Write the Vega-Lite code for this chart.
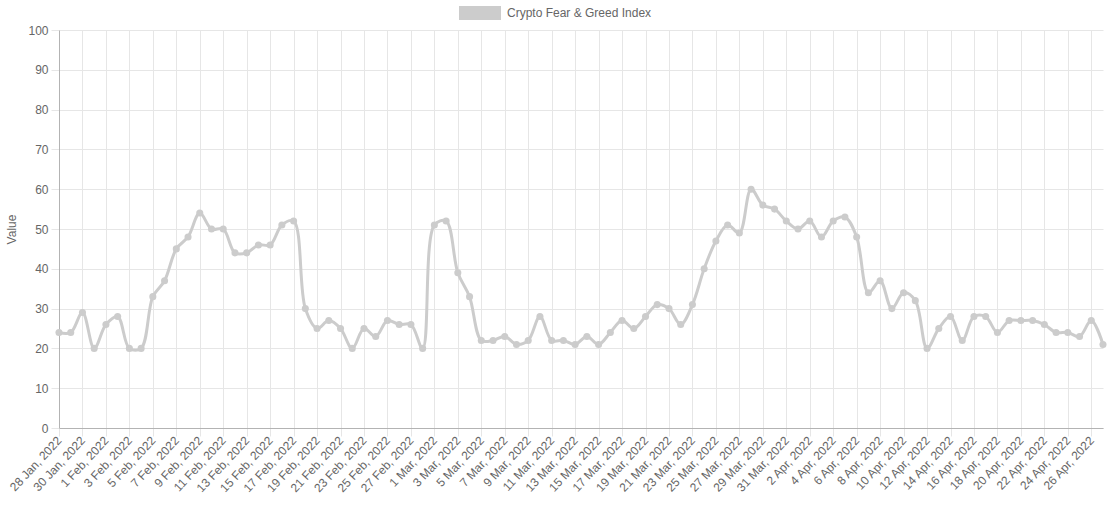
{
  "$schema": "https://vega.github.io/schema/vega-lite/v6.json",
  "width": 1044,
  "height": 398,
  "autosize": {"type": "none"},
  "padding": {"left": 59, "top": 30, "right": 10, "bottom": 78},
  "background": "white",
  "config": {"view": {"stroke": null}, "font": "Liberation Sans"},
  "data": {"values": [
    {"date": "28 Jan, 2022", "value": 24},
    {"date": "29 Jan, 2022", "value": 24},
    {"date": "30 Jan, 2022", "value": 29},
    {"date": "31 Jan, 2022", "value": 20},
    {"date": "1 Feb, 2022", "value": 26},
    {"date": "2 Feb, 2022", "value": 28},
    {"date": "3 Feb, 2022", "value": 20},
    {"date": "4 Feb, 2022", "value": 20},
    {"date": "5 Feb, 2022", "value": 33},
    {"date": "6 Feb, 2022", "value": 37},
    {"date": "7 Feb, 2022", "value": 45},
    {"date": "8 Feb, 2022", "value": 48},
    {"date": "9 Feb, 2022", "value": 54},
    {"date": "10 Feb, 2022", "value": 50},
    {"date": "11 Feb, 2022", "value": 50},
    {"date": "12 Feb, 2022", "value": 44},
    {"date": "13 Feb, 2022", "value": 44},
    {"date": "14 Feb, 2022", "value": 46},
    {"date": "15 Feb, 2022", "value": 46},
    {"date": "16 Feb, 2022", "value": 51},
    {"date": "17 Feb, 2022", "value": 52},
    {"date": "18 Feb, 2022", "value": 30},
    {"date": "19 Feb, 2022", "value": 25},
    {"date": "20 Feb, 2022", "value": 27},
    {"date": "21 Feb, 2022", "value": 25},
    {"date": "22 Feb, 2022", "value": 20},
    {"date": "23 Feb, 2022", "value": 25},
    {"date": "24 Feb, 2022", "value": 23},
    {"date": "25 Feb, 2022", "value": 27},
    {"date": "26 Feb, 2022", "value": 26},
    {"date": "27 Feb, 2022", "value": 26},
    {"date": "28 Feb, 2022", "value": 20},
    {"date": "1 Mar, 2022", "value": 51},
    {"date": "2 Mar, 2022", "value": 52},
    {"date": "3 Mar, 2022", "value": 39},
    {"date": "4 Mar, 2022", "value": 33},
    {"date": "5 Mar, 2022", "value": 22},
    {"date": "6 Mar, 2022", "value": 22},
    {"date": "7 Mar, 2022", "value": 23},
    {"date": "8 Mar, 2022", "value": 21},
    {"date": "9 Mar, 2022", "value": 22},
    {"date": "10 Mar, 2022", "value": 28},
    {"date": "11 Mar, 2022", "value": 22},
    {"date": "12 Mar, 2022", "value": 22},
    {"date": "13 Mar, 2022", "value": 21},
    {"date": "14 Mar, 2022", "value": 23},
    {"date": "15 Mar, 2022", "value": 21},
    {"date": "16 Mar, 2022", "value": 24},
    {"date": "17 Mar, 2022", "value": 27},
    {"date": "18 Mar, 2022", "value": 25},
    {"date": "19 Mar, 2022", "value": 28},
    {"date": "20 Mar, 2022", "value": 31},
    {"date": "21 Mar, 2022", "value": 30},
    {"date": "22 Mar, 2022", "value": 26},
    {"date": "23 Mar, 2022", "value": 31},
    {"date": "24 Mar, 2022", "value": 40},
    {"date": "25 Mar, 2022", "value": 47},
    {"date": "26 Mar, 2022", "value": 51},
    {"date": "27 Mar, 2022", "value": 49},
    {"date": "28 Mar, 2022", "value": 60},
    {"date": "29 Mar, 2022", "value": 56},
    {"date": "30 Mar, 2022", "value": 55},
    {"date": "31 Mar, 2022", "value": 52},
    {"date": "1 Apr, 2022", "value": 50},
    {"date": "2 Apr, 2022", "value": 52},
    {"date": "3 Apr, 2022", "value": 48},
    {"date": "4 Apr, 2022", "value": 52},
    {"date": "5 Apr, 2022", "value": 53},
    {"date": "6 Apr, 2022", "value": 48},
    {"date": "7 Apr, 2022", "value": 34},
    {"date": "8 Apr, 2022", "value": 37},
    {"date": "9 Apr, 2022", "value": 30},
    {"date": "10 Apr, 2022", "value": 34},
    {"date": "11 Apr, 2022", "value": 32},
    {"date": "12 Apr, 2022", "value": 20},
    {"date": "13 Apr, 2022", "value": 25},
    {"date": "14 Apr, 2022", "value": 28},
    {"date": "15 Apr, 2022", "value": 22},
    {"date": "16 Apr, 2022", "value": 28},
    {"date": "17 Apr, 2022", "value": 28},
    {"date": "18 Apr, 2022", "value": 24},
    {"date": "19 Apr, 2022", "value": 27},
    {"date": "20 Apr, 2022", "value": 27},
    {"date": "21 Apr, 2022", "value": 27},
    {"date": "22 Apr, 2022", "value": 26},
    {"date": "23 Apr, 2022", "value": 24},
    {"date": "24 Apr, 2022", "value": 24},
    {"date": "25 Apr, 2022", "value": 23},
    {"date": "26 Apr, 2022", "value": 27},
    {"date": "27 Apr, 2022", "value": 21}
  ]},
  "encoding": {
    "x": {
      "field": "date",
      "type": "ordinal",
      "sort": null,
      "scale": {"type": "point", "padding": 0},
      "axis": {
        "title": null,
        "values": ["28 Jan, 2022", "30 Jan, 2022", "1 Feb, 2022", "3 Feb, 2022", "5 Feb, 2022", "7 Feb, 2022", "9 Feb, 2022", "11 Feb, 2022", "13 Feb, 2022", "15 Feb, 2022", "17 Feb, 2022", "19 Feb, 2022", "21 Feb, 2022", "23 Feb, 2022", "25 Feb, 2022", "27 Feb, 2022", "1 Mar, 2022", "3 Mar, 2022", "5 Mar, 2022", "7 Mar, 2022", "9 Mar, 2022", "11 Mar, 2022", "13 Mar, 2022", "15 Mar, 2022", "17 Mar, 2022", "19 Mar, 2022", "21 Mar, 2022", "23 Mar, 2022", "25 Mar, 2022", "27 Mar, 2022", "29 Mar, 2022", "31 Mar, 2022", "2 Apr, 2022", "4 Apr, 2022", "6 Apr, 2022", "8 Apr, 2022", "10 Apr, 2022", "12 Apr, 2022", "14 Apr, 2022", "16 Apr, 2022", "18 Apr, 2022", "20 Apr, 2022", "22 Apr, 2022", "24 Apr, 2022", "26 Apr, 2022"],
        "labelAngle": -47,
        "labelAlign": "right",
        "labelBaseline": "middle",
        "labelFontSize": 12,
        "labelColor": "#666666",
        "labelPadding": 2,
        "grid": true,
        "gridColor": "#e6e6e6",
        "tickColor": "#e6e6e6",
        "tickSize": 8,
        "domainColor": "#b3b3b3",
        "labelOverlap": false
      }
    },
    "y": {
      "field": "value",
      "type": "quantitative",
      "scale": {"domain": [0, 100], "nice": false},
      "axis": {
        "title": "Value",
        "values": [0, 10, 20, 30, 40, 50, 60, 70, 80, 90, 100],
        "labelFontSize": 12,
        "labelColor": "#666666",
        "labelPadding": 3,
        "grid": true,
        "gridColor": "#e6e6e6",
        "tickColor": "#e6e6e6",
        "tickSize": 8,
        "domainColor": "#b3b3b3",
        "titleColor": "#666666",
        "titleFontSize": 12,
        "titleFontWeight": "normal",
        "titleX": -48,
        "titleY": 199,
        "titleBaseline": "middle",
        "titleAngle": -90
      }
    }
  },
  "layer": [
    {
      "mark": {"type": "line", "interpolate": "catmull-rom", "strokeWidth": 3, "color": "#cccccc"}
    },
    {
      "mark": {"type": "point", "filled": true, "size": 50, "opacity": 1},
      "encoding": {
        "color": {
          "datum": "Crypto Fear & Greed Index",
          "type": "nominal",
          "scale": {"range": ["#cccccc"]},
          "legend": {
            "title": null,
            "orient": "none",
            "legendX": 400,
            "legendY": -38,
            "symbolType": "M-1,-0.3333H1V0.3333H-1Z",
            "symbolSize": 1764,
            "symbolStrokeWidth": 0,
            "symbolOpacity": 1,
            "labelFontSize": 12,
            "labelColor": "#666666",
            "labelOffset": 6,
            "padding": 0
          }
        }
      }
    }
  ]
}
